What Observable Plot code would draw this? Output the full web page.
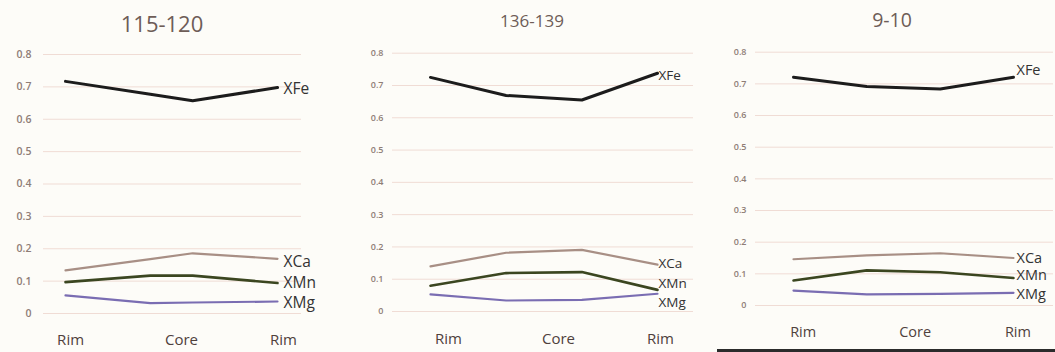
<!DOCTYPE html>
<html>
<head>
<meta charset="utf-8">
<script src="https://cdn.jsdelivr.net/npm/d3@7"></script>
<script src="https://cdn.jsdelivr.net/npm/@observablehq/plot@0.6"></script>
<style>
  html, body { margin: 0; padding: 0; background: #fdfcf8; }
  #wrap { position: relative; width: 1055px; height: 352px; overflow: hidden; background: #fdfcf8; font-family: "Open Sans", sans-serif; }
  .panel { position: absolute; top: 0; }
  .title { position: absolute; transform: translate(-50%, -50%); color: #6e5d57; white-space: nowrap; }
  #rule { position: absolute; left: 717px; top: 349px; width: 338px; height: 3px; background: #2b2b2b; }
</style>
</head>
<body>
<div id="wrap"></div>
<script>
// ---------- data ----------
const series = ["XFe", "XCa", "XMn", "XMg"];
const yTicks = [0, 0.1, 0.2, 0.3, 0.4, 0.5, 0.6, 0.7, 0.8];
const xLabels = ["Rim", "Core", "Rim"];

// panel "115-120"
const title1 = "115-120";
const pos1 = [0, 0.40, 0.60, 1];
const xfe1 = [0.717, 0.677, 0.657, 0.698];
const xca1 = [0.133, 0.168, 0.186, 0.169];
const xmn1 = [0.097, 0.117, 0.117, 0.094];
const xmg1 = [0.056, 0.032, 0.034, 0.037];
const xTicks1 = [0.024, 0.547, 1.028];

// panel "136-139"
const title2 = "136-139";
const pos2 = [0, 0.333, 0.667, 1];
const xfe2 = [0.725, 0.669, 0.655, 0.738];
const xca2 = [0.140, 0.182, 0.191, 0.145];
const xmn2 = [0.080, 0.119, 0.122, 0.067];
const xmg2 = [0.053, 0.034, 0.036, 0.055];
const xTicks2 = [0.079, 0.564, 1.013];

// panel "9-10"
const title3 = "9-10";
const pos3 = [0, 0.333, 0.667, 1];
const xfe3 = [0.721, 0.692, 0.684, 0.721];
const xca3 = [0.146, 0.158, 0.165, 0.150];
const xmn3 = [0.079, 0.111, 0.105, 0.087];
const xmg3 = [0.047, 0.035, 0.037, 0.040];
const xTicks3 = [0.044, 0.553, 1.020];

// ---------- build ----------
const colors = {XFe: "#1c1c1c", XCa: "#a88f85", XMn: "#3b4620", XMg: "#7a6db2"};
const widths = {XFe: 3, XCa: 2.2, XMn: 2.6, XMg: 2.2};

function rowsOf(pos, arrs) {
  const rows = [];
  series.forEach((s, k) => arrs[k].forEach((v, i) => rows.push({series: s, pos: pos[i], value: v})));
  return rows;
}

function panel(cfg) {
  const rows = rowsOf(cfg.pos, cfg.values);
  const fmt = new Map(cfg.xTicks.map((t, i) => [t, xLabels[i]]));
  const marks = [
    Plot.gridY(yTicks, {stroke: "#f0dcd5", strokeOpacity: 1, strokeWidth: 1}),
    Plot.axisY(yTicks, {tickSize: 0, tickPadding: cfg.yPad, fontSize: cfg.yFont, fontWeight: 600, fill: "#8f7d76",
      label: null, tickFormat: d => d === 0 ? "0" : d.toFixed(1)}),
    Plot.axisX(cfg.xTicks, {tickSize: 0, tickPadding: cfg.xPad, fontSize: cfg.xFont, fill: "#4f413c",
      label: null, tickFormat: d => fmt.get(d)})
  ];
  ["XCa", "XMn", "XMg", "XFe"].forEach(s => {
    marks.push(Plot.line(rows.filter(r => r.series === s),
      {x: "pos", y: "value", stroke: colors[s], strokeWidth: widths[s], strokeLinejoin: "round"}));
  });
  series.forEach(s => {
    const last = rows.filter(r => r.series === s).slice(-1);
    marks.push(Plot.text(last, {x: "pos", y: "value", text: "series", textAnchor: "start",
      dx: cfg.lblDx, dy: cfg.lblDy[s], fontSize: cfg.lblFont, fill: "#333"}));
  });
  const svg = Plot.plot({
    width: cfg.width, height: 352,
    marginLeft: cfg.ml, marginRight: cfg.mr, marginTop: 30, marginBottom: 352 - cfg.yr[0],
    x: {domain: [0, 1], range: cfg.xr, label: null},
    y: {domain: [0, 0.8], range: cfg.yr, label: null},
    style: {background: "transparent", fontFamily: "Open Sans", overflow: "visible"},
    marks
  });
  const div = document.createElement("div");
  div.className = "panel";
  div.style.left = cfg.left + "px";
  div.style.width = cfg.width + "px";
  div.appendChild(svg);
  const t = document.createElement("div");
  t.className = "title";
  t.textContent = cfg.title;
  t.style.left = cfg.tx + "px";
  t.style.top = cfg.ty + "px";
  t.style.fontSize = cfg.tFont + "px";
  div.appendChild(t);
  document.getElementById("wrap").appendChild(div);
}

panel({left: 0, width: 350, ml: 43, mr: 49, xr: [65, 277], yr: [313, 54],
  pos: pos1, values: [xfe1, xca1, xmn1, xmg1], xTicks: xTicks1,
  yPad: 12, yFont: 10.5, xPad: 21, xFont: 15, lblFont: 15.5, lblDx: 6,
  lblDy: {XFe: 2, XCa: 3, XMn: 0, XMg: 2},
  title: title1, tx: 162, ty: 23, tFont: 22});

panel({left: 350, width: 360, ml: 42, mr: 17, xr: [80, 307], yr: [311, 52.7],
  pos: pos2, values: [xfe2, xca2, xmn2, xmg2], xTicks: xTicks2,
  yPad: 9, yFont: 9, xPad: 22, xFont: 15, lblFont: 13.5, lblDx: 1,
  lblDy: {XFe: 2, XCa: -1, XMn: -6, XMg: 9},
  title: title2, tx: 182, ty: 20, tFont: 17});

panel({left: 710, width: 345, ml: 45, mr: 2, xr: [83, 303], yr: [305, 51.7],
  pos: pos3, values: [xfe3, xca3, xmn3, xmg3], xTicks: xTicks3,
  yPad: 9, yFont: 9, xPad: 21, xFont: 14.5, lblFont: 14.5, lblDx: 3,
  lblDy: {XFe: -7, XCa: 0, XMn: -3, XMg: 2},
  title: title3, tx: 182, ty: 19, tFont: 19.5});

const rule = document.createElement("div");
rule.id = "rule";
document.getElementById("wrap").appendChild(rule);
</script>
</body>
</html>
